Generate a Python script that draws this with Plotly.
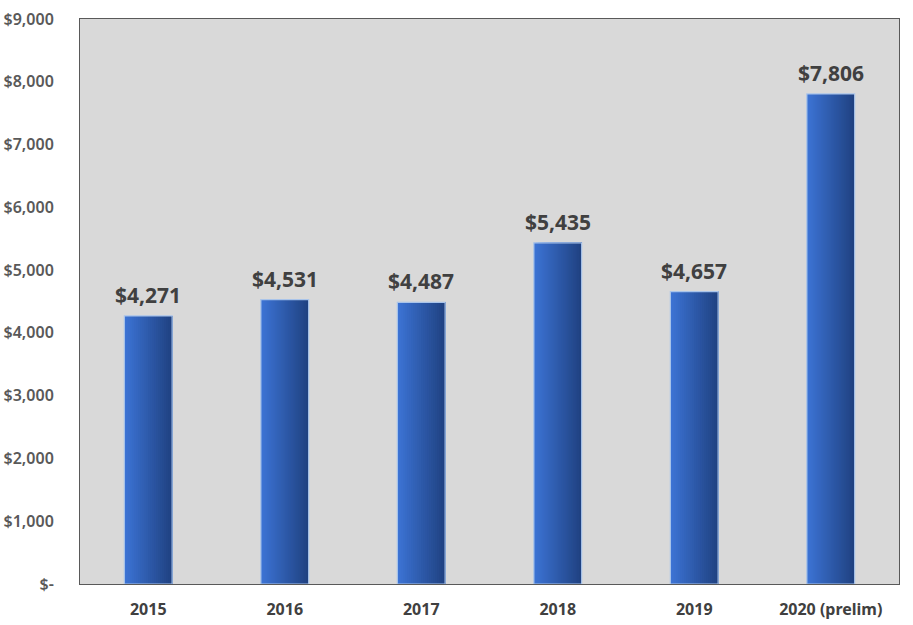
import plotly.graph_objects as go

categories = ["2015", "2016", "2017", "2018", "2019", "2020 (prelim)"]
values = [4271, 4531, 4487, 5435, 4657, 7806]
tick_vals = [0, 1000, 2000, 3000, 4000, 5000, 6000, 7000, 8000, 9000]
tick_text = ["$-", "$1,000", "$2,000", "$3,000", "$4,000", "$5,000",
             "$6,000", "$7,000", "$8,000", "$9,000"]
labels = ["${:,}".format(v) for v in values]

BAR_W = 0.35
N = 24
c0 = (60, 115, 212)
c1 = (32, 66, 130)

fig = go.Figure()
for i in range(N):
    t = i / (N - 1)
    col = "rgb({},{},{})".format(*[round(a + (b - a) * t) for a, b in zip(c0, c1)])
    fig.add_trace(go.Bar(
        x=categories, y=values,
        width=BAR_W - i * BAR_W / N,
        offset=-BAR_W / 2 + i * BAR_W / N,
        marker=dict(color=col, line=dict(width=0)),
        showlegend=False, hoverinfo="skip",
    ))

fig.add_trace(go.Bar(
    x=categories, y=values, width=BAR_W,
    marker=dict(color="rgba(0,0,0,0)", line=dict(color="#A9C4EA", width=1.2)),
    showlegend=False, hoverinfo="skip",
))

for idx, (v, lab) in enumerate(zip(values, labels)):
    fig.add_annotation(
        x=idx, y=v, text=lab, showarrow=False, yanchor="bottom", yshift=5,
        font=dict(family="Noto Sans, sans-serif", size=21, color="#404040", weight="bold"),
    )

fig.update_layout(
    width=913, height=625,
    barmode="overlay",
    paper_bgcolor="white",
    plot_bgcolor="#D9D9D9",
    margin=dict(l=80, r=14, t=19, b=41),
    font=dict(family="Noto Sans, sans-serif", color="#595959"),
)
fig.update_xaxes(
    type="category", categoryorder="array", categoryarray=categories,
    range=[-0.5, len(categories) - 0.5],
    automargin=False,
    showgrid=False, showline=True, linecolor="#595959", linewidth=1, mirror=True,
    tickfont=dict(size=16, color="#404040", weight="bold"),
    ticks="", ticklabelstandoff=11,
)
fig.update_yaxes(
    automargin=False,
    range=[0, 9000], tickvals=tick_vals, ticktext=tick_text,
    showgrid=False, zeroline=False, showline=True, linecolor="#595959", linewidth=1,
    mirror=True, tickfont=dict(size=16, color="#595959", weight=600), ticks="",
    ticklabelstandoff=22,
)

fig.write_html("out.html", config={"displayModeBar": False},
               post_script="document.body.style.margin='0';")
